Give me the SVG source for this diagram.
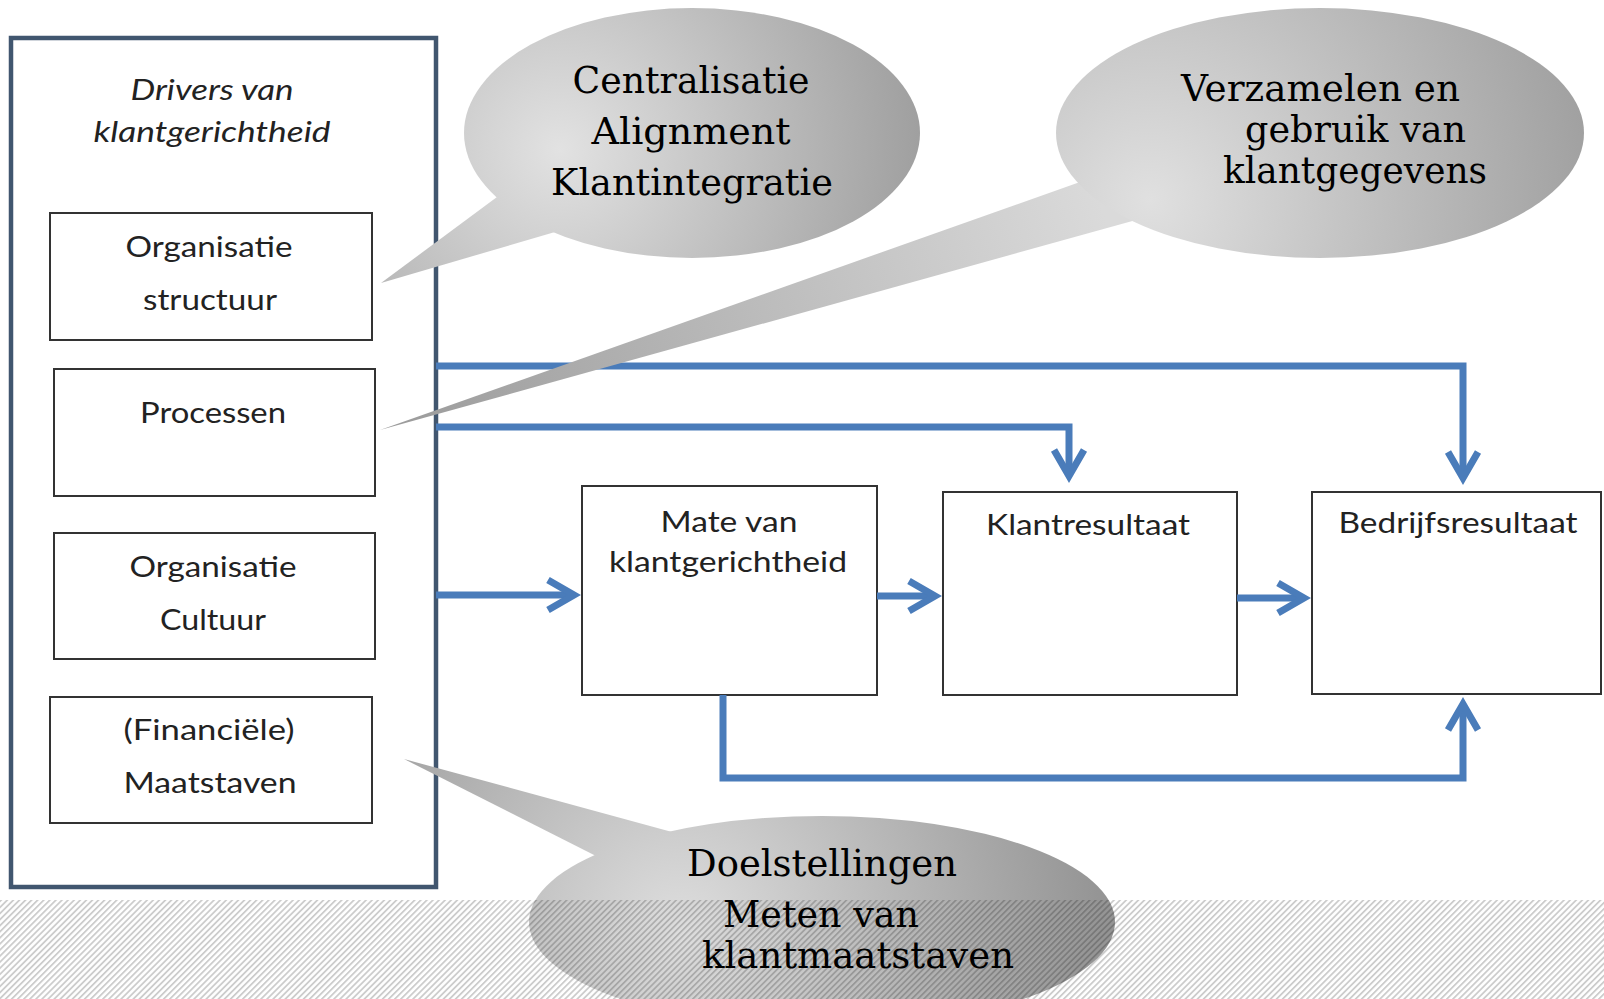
<svg xmlns="http://www.w3.org/2000/svg" width="1604" height="999" viewBox="0 0 1604 999">
<style>
.box{fill:#fff;stroke:#333;stroke-width:2}
.outer{fill:#fff;stroke:#41566f;stroke-width:4.5}
.lbl{font-family:Lato,"Open Sans","Liberation Sans",sans-serif;font-size:28px;fill:#222;text-anchor:middle}
.ital{font-style:italic}
.conn{fill:none;stroke:#4a7cba;stroke-width:7;stroke-linejoin:miter}
.bub{font-family:"DejaVu Serif","Liberation Serif",serif;font-size:38px;fill:#000}
</style>
<defs>
<marker id="ah" markerUnits="userSpaceOnUse" markerWidth="40" markerHeight="40" refX="0" refY="0" orient="auto" style="overflow:visible">
<path d="M-26,-15 L0,0 L-26,15" fill="none" stroke="#4a7cba" stroke-width="7" stroke-linejoin="miter"/>
</marker>
<radialGradient id="g1" gradientUnits="userSpaceOnUse" cx="560" cy="150" r="380">
<stop offset="0" stop-color="#e2e2e2"/><stop offset="1" stop-color="#9c9c9c"/>
</radialGradient>
<radialGradient id="g2" gradientUnits="userSpaceOnUse" cx="1150" cy="200" r="460">
<stop offset="0" stop-color="#e0e0e0"/><stop offset="1" stop-color="#9e9e9e"/>
</radialGradient>
<linearGradient id="g2t" gradientUnits="userSpaceOnUse" x1="1100" y1="200" x2="380" y2="430">
<stop offset="0" stop-color="#dadada"/><stop offset="1" stop-color="#9a9a9a"/>
</linearGradient>
<radialGradient id="g3" gradientUnits="userSpaceOnUse" cx="680" cy="930" r="420">
<stop offset="0" stop-color="#dedede"/><stop offset="1" stop-color="#959595"/>
</radialGradient>
<pattern id="hatch" patternUnits="userSpaceOnUse" width="4.3" height="10" patternTransform="rotate(45)">
<rect width="1.8" height="10" fill="#000" fill-opacity="0.2"/>
</pattern>
</defs>
<rect width="1604" height="999" fill="#fff"/>

<g id="drivers">
<rect class="outer" x="11" y="38" width="425" height="849"/>
<text class="lbl ital" x="212" y="100" textLength="163" lengthAdjust="spacingAndGlyphs">Drivers van</text>
<text class="lbl ital" x="212" y="142" textLength="237" lengthAdjust="spacingAndGlyphs">klantgerichtheid</text>
</g>
<g id="org-structuur">
<rect class="box" x="50" y="213" width="322" height="127"/>
<text class="lbl" x="209" y="257" textLength="167" lengthAdjust="spacingAndGlyphs">Organisatie</text>
<text class="lbl" x="210" y="310" textLength="134" lengthAdjust="spacingAndGlyphs">structuur</text>
</g>
<g id="processen">
<rect class="box" x="54" y="369" width="321" height="127"/>
<text class="lbl" x="213" y="423" textLength="146" lengthAdjust="spacingAndGlyphs">Processen</text>
</g>
<g id="org-cultuur">
<rect class="box" x="54" y="533" width="321" height="126"/>
<text class="lbl" x="213" y="577" textLength="167" lengthAdjust="spacingAndGlyphs">Organisatie</text>
<text class="lbl" x="213" y="630" textLength="106" lengthAdjust="spacingAndGlyphs">Cultuur</text>
</g>
<g id="maatstaven">
<rect class="box" x="50" y="697" width="322" height="126"/>
<text class="lbl" x="209" y="740" textLength="171" lengthAdjust="spacingAndGlyphs">(Financiële)</text>
<text class="lbl" x="210" y="793" textLength="173" lengthAdjust="spacingAndGlyphs">Maatstaven</text>
</g>
<g id="mate">
<rect class="box" x="582" y="486" width="295" height="209"/>
<text class="lbl" x="729" y="532" textLength="137" lengthAdjust="spacingAndGlyphs">Mate van</text>
<text class="lbl" x="728" y="572" textLength="238" lengthAdjust="spacingAndGlyphs">klantgerichtheid</text>
</g>
<g id="klantresultaat">
<rect class="box" x="943" y="492" width="294" height="203"/>
<text class="lbl" x="1088" y="535" textLength="204" lengthAdjust="spacingAndGlyphs">Klantresultaat</text>
</g>
<g id="bedrijfsresultaat">
<rect class="box" x="1312" y="492" width="289" height="202"/>
<text class="lbl" x="1458" y="533" textLength="239" lengthAdjust="spacingAndGlyphs">Bedrijfsresultaat</text>
</g>

<g id="connectors">
<path class="conn" d="M436,366 H1463 V478" marker-end="url(#ah)"/>
<path class="conn" d="M436,427 H1069 V476" marker-end="url(#ah)"/>
<path class="conn" d="M436,595 H574" marker-end="url(#ah)"/>
<path class="conn" d="M877,596 H935" marker-end="url(#ah)"/>
<path class="conn" d="M1237,598 H1304" marker-end="url(#ah)"/>
<path class="conn" d="M723,695 V778 H1463 V704" marker-end="url(#ah)"/>
</g>

<g id="callout-centralisatie">
<polygon points="381,283 497,197 620,180 555,232" fill="url(#g1)"/>
<ellipse cx="692" cy="133" rx="228" ry="125" fill="url(#g1)"/>
<text class="bub" x="691" y="93" text-anchor="middle" textLength="237" lengthAdjust="spacingAndGlyphs">Centralisatie</text>
<text class="bub" x="691" y="144" text-anchor="middle" textLength="199" lengthAdjust="spacingAndGlyphs">Alignment</text>
<text class="bub" x="692" y="195" text-anchor="middle" textLength="282" lengthAdjust="spacingAndGlyphs">Klantintegratie</text>
</g>
<g id="callout-klantgegevens">
<polygon points="380,430 1080,182 1200,170 1136,220" fill="url(#g2t)"/>
<ellipse cx="1320" cy="133" rx="264" ry="125" fill="url(#g2)"/>
<text class="bub" x="1181" y="101" textLength="279" lengthAdjust="spacingAndGlyphs">Verzamelen en</text>
<text class="bub" x="1245" y="142" textLength="221" lengthAdjust="spacingAndGlyphs">gebruik van</text>
<text class="bub" x="1223" y="183" textLength="264" lengthAdjust="spacingAndGlyphs">klantgegevens</text>
</g>
<g id="callout-doelstellingen">
<polygon points="404,759 598,857 700,900 672,832" fill="url(#g3)"/>
<ellipse cx="822" cy="922" rx="293" ry="106" fill="url(#g3)"/>
</g>

<rect id="hatch-band" x="0" y="900" width="1604" height="99" fill="url(#hatch)"/>

<g id="callout-doelstellingen-text">
<text class="bub" x="687" y="876" textLength="270" lengthAdjust="spacingAndGlyphs">Doelstellingen</text>
<text class="bub" x="723" y="927" textLength="196" lengthAdjust="spacingAndGlyphs">Meten van</text>
<text class="bub" x="702" y="968" textLength="312" lengthAdjust="spacingAndGlyphs">klantmaatstaven</text>
</g>
</svg>
